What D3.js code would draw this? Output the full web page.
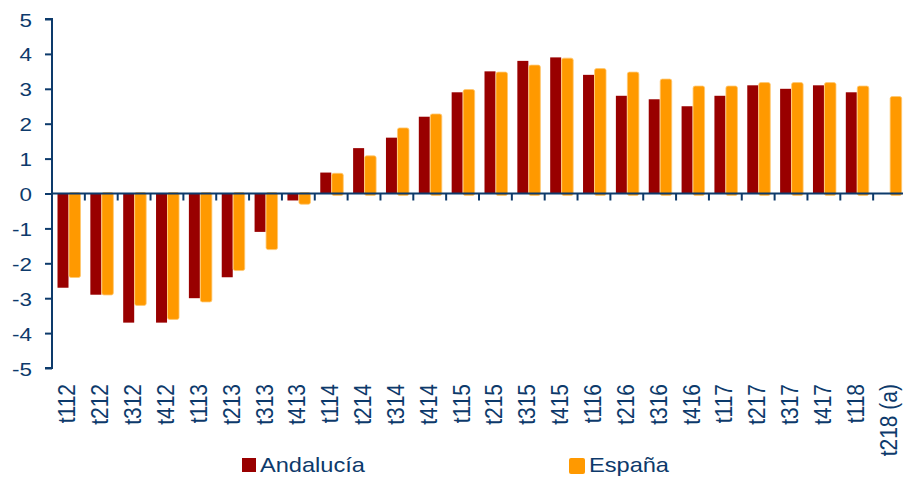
<!DOCTYPE html>
<html>
<head>
<meta charset="utf-8">
<script src="https://d3js.org/d3.v7.min.js"></script>
<style>
  body { margin: 0; background: #fff; }
  text { font-family: "Liberation Sans", Arial, sans-serif; fill: #0d3a6b; }
</style>
</head>
<body>
<svg></svg>
<script>
// periods (quarter + year)
var periods = ['t112','t212','t312','t412','t113','t213','t313','t413',
               't114','t214','t314','t414','t115','t215','t315','t415',
               't116','t216','t316','t416','t117','t217','t317','t417',
               't118','t218 (a)'];

var andalucia = [-2.7, -2.9, -3.7, -3.7, -3.0, -2.4, -1.1, -0.2,
                 0.6, 1.3, 1.6, 2.2, 2.9, 3.5, 3.8, 3.9,
                 3.4, 2.8, 2.7, 2.5, 2.8, 3.1, 3.0, 3.1,
                 2.9, null];

var espana = [-2.35, -2.85, -3.15, -3.55, -3.05, -2.15, -1.55, -0.25,
              0.55, 1.05, 1.85, 2.25, 2.95, 3.45, 3.65, 3.85,
              3.55, 3.45, 3.25, 3.05, 3.05, 3.15, 3.15, 3.15,
              3.05, 2.75];

var yTicks = [5, 4, 3, 2, 1, 0, -1, -2, -3, -4, -5];

var navy = '#0d3a6b';
var W = 903, H = 477;

var svg = d3.select('svg').attr('width', W).attr('height', H);

var y = d3.scaleLinear().domain([-5, 5]).range([368, 19]);
var x0 = d3.scaleBand().domain(periods).range([52, 906]);
var x1 = d3.scaleBand().domain(['and', 'esp']).range([5.5, 28.5]);

var groups = svg.selectAll('.grp')
    .data(periods)
    .enter().append('g')
    .attr('class', 'grp')
    .attr('transform', function(d) { return 'translate(' + x0(d) + ',0)'; });

// Andalucía bars
groups.filter(function(d, i) { return andalucia[i] !== null; })
  .append('rect')
    .attr('x', x1('and'))
    .attr('width', x1.bandwidth() - 0.5)
    .attr('y', function(d) { var v = andalucia[periods.indexOf(d)]; return Math.min(y(v), y(0)); })
    .attr('height', function(d) { var v = andalucia[periods.indexOf(d)]; return Math.abs(y(v) - y(0)); })
    .attr('fill', '#990000');

// España bars (slightly rounded, soft edge)
groups.append('rect')
    .attr('x', x1('esp'))
    .attr('width', x1.bandwidth())
    .attr('y', function(d, i) { return Math.min(y(espana[i]), y(0)) - 1; })
    .attr('height', function(d, i) { return Math.abs(y(espana[i]) - y(0)) + 3; })
    .attr('rx', 2)
    .attr('fill', '#ff9900')
    .attr('stroke', '#ffc870')
    .attr('stroke-width', 0.8);

// y axis
var yAxis = svg.append('g')
    .attr('transform', 'translate(52,0)')
    .call(d3.axisLeft(y).tickValues(yTicks).tickSize(7).tickFormat(function(d) { return String(d); }));
yAxis.selectAll('path, line').attr('stroke', navy).attr('stroke-width', 2);
yAxis.select('.domain').attr('d', 'M-7,19H0V368H-7');
yAxis.selectAll('text')
    .attr('x', null).attr('dy', null)
    .attr('text-anchor', 'end')
    .style('font-size', '19px')
    .attr('transform', 'translate(-20,7) scale(1.18,1)');

// x axis along zero
var xAxis = svg.append('g')
    .attr('transform', 'translate(0,' + y(0) + ')');
xAxis.append('line')
    .attr('x1', 52).attr('x2', W)
    .attr('stroke', navy).attr('stroke-width', 2);
xAxis.selectAll('.tk')
    .data(periods)
    .enter().append('line')
    .attr('class', 'tk')
    .attr('x1', function(d) { return x0(d); })
    .attr('x2', function(d) { return x0(d); })
    .attr('y1', 0).attr('y2', 7)
    .attr('stroke', navy).attr('stroke-width', 2);

svg.selectAll('.xl')
    .data(periods)
    .enter().append('text')
    .attr('class', 'xl')
    .attr('text-anchor', 'end')
    .style('font-size', '21px')
    .attr('transform', function(d) {
      return 'translate(' + (x0(d) + x0.bandwidth() / 2 + 7) + ',384) scale(1.12,1) rotate(-90)';
    })
    .text(function(d) { return d; });

// legend
var legend = [
  { name: 'Andalucía', color: '#990000', x: 242 },
  { name: 'España', color: '#ff9900', x: 569 }
];
var lg = svg.selectAll('.lg')
    .data(legend)
    .enter().append('g')
    .attr('class', 'lg')
    .attr('transform', function(d) { return 'translate(' + d.x + ',457)'; });
lg.append('rect')
    .attr('y', 1)
    .attr('width', function(d, i) { return i ? 16 : 14; })
    .attr('height', function(d, i) { return i ? 16 : 14; })
    .attr('rx', function(d, i) { return i ? 2 : 0; })
    .attr('fill', function(d) { return d.color; });
lg.append('text')
    .style('font-size', '20px')
    .attr('transform', function(d, i) { return 'translate(' + (i ? 20 : 18) + ',15) scale(1.18,1)'; })
    .text(function(d) { return d.name; });
</script>
</body>
</html>
